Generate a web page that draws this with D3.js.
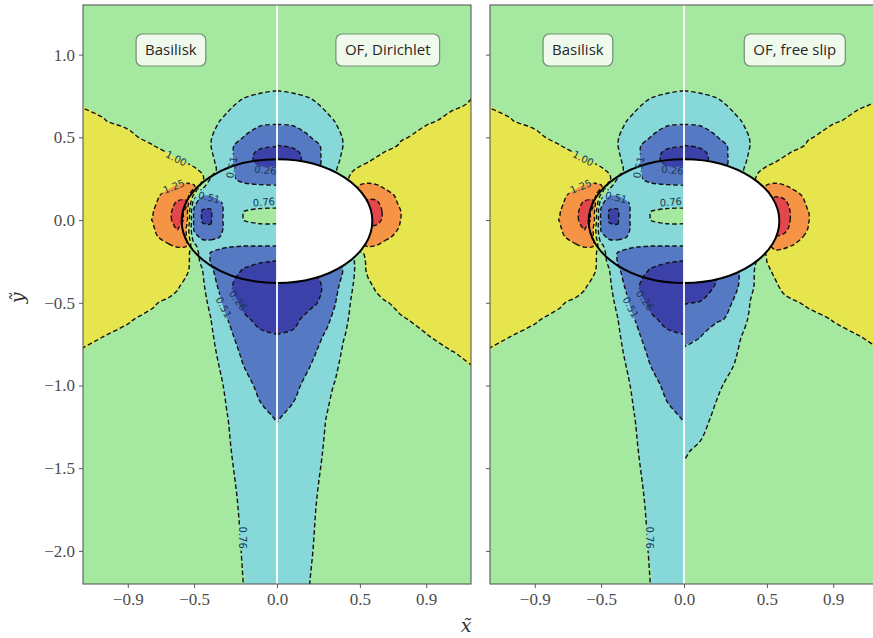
<!DOCTYPE html>
<html>
<head>
<meta charset="utf-8">
<script src="https://cdn.jsdelivr.net/npm/d3@7"></script>
<style>
  body { margin: 0; background: #fff; }
  svg { display: block; }
</style>
</head>
<body>
<svg id="fig" width="873" height="638"></svg>
<script>
// Sampling grid of the speed field: |x| columns and y rows (rows listed top to bottom)
const uNodes = [0, 0.1, 0.2, 0.3, 0.35, 0.4, 0.45, 0.5, 0.55, 0.6, 0.65, 0.75, 0.9, 1.05, 1.2];
const yNodes = [1.3, 1.0, 0.8, 0.7, 0.6, 0.5, 0.45, 0.4, 0.35, 0.3, 0.25, 0.2, 0.15, 0.1, 0.05, 0.0,
                -0.05, -0.1, -0.15, -0.2, -0.25, -0.3, -0.4, -0.5, -0.6, -0.7, -0.8, -1.0, -1.2, -1.4, -1.7, -2.0, -2.2];

// Contour levels and their fill colours (band above each level)
const levels = [0.01, 0.26, 0.51, 0.76, 1.00, 1.25, 1.50];
const bandColors = ["#3b41a8", "#5679c4", "#87d9d9", "#a5e9a1", "#e7e54d", "#f59445", "#e2474c"];

// Normalised speed, Basilisk (inside and outside the bubble)
const speedBasilisk = [
  [0.90,0.90,0.91,0.92,0.92,0.93,0.93,0.94,0.94,0.95,0.95,0.96,0.96,0.97,0.97],
  [0.86,0.87,0.88,0.90,0.90,0.91,0.92,0.93,0.94,0.94,0.95,0.96,0.97,0.97,0.98],
  [0.78,0.80,0.83,0.87,0.88,0.90,0.91,0.92,0.93,0.94,0.95,0.96,0.97,0.98,0.98],
  [0.67,0.68,0.72,0.80,0.83,0.86,0.88,0.90,0.91,0.92,0.93,0.95,0.97,0.98,0.995],
  [0.55,0.56,0.60,0.72,0.765,0.80,0.83,0.86,0.88,0.90,0.92,0.94,0.97,1.005,1.04],
  [0.375,0.40,0.505,0.63,0.70,0.77,0.80,0.83,0.86,0.88,0.91,0.96,1.03,1.06,1.08],
  [0.27,0.30,0.42,0.57,0.66,0.765,0.80,0.84,0.87,0.90,0.93,1.005,1.05,1.07,1.08],
  [0.17,0.20,0.35,0.60,0.70,0.78,0.82,0.86,0.90,0.95,1.002,1.04,1.06,1.08,1.09],
  [0.20,0.21,0.34,0.60,0.72,0.80,0.86,0.93,0.995,1.04,1.06,1.08,1.10,1.10,1.10],
  [0.30,0.31,0.42,0.58,0.72,0.84,0.96,1.05,1.09,1.10,1.10,1.10,1.10,1.10,1.10],
  [0.40,0.41,0.45,0.57,0.65,0.74,1.05,1.10,1.12,1.12,1.12,1.12,1.10,1.10,1.10],
  [0.54,0.55,0.57,0.60,0.62,0.64,0.80,1.30,1.36,1.30,1.22,1.13,1.10,1.10,1.10],
  [0.62,0.63,0.64,0.62,0.60,0.53,0.53,0.95,1.42,1.42,1.35,1.17,1.10,1.10,1.10],
  [0.71,0.70,0.67,0.60,0.45,0.30,0.32,0.58,1.56,1.54,1.42,1.20,1.10,1.10,1.10],
  [0.80,0.80,0.765,0.60,0.42,0.24,0.24,0.45,1.45,1.62,1.45,1.24,1.12,1.10,1.10],
  [0.80,0.80,0.765,0.60,0.43,0.24,0.245,0.45,1.45,1.62,1.45,1.255,1.13,1.10,1.10],
  [0.71,0.71,0.69,0.60,0.42,0.28,0.29,0.47,1.30,1.52,1.42,1.23,1.13,1.10,1.10],
  [0.61,0.61,0.60,0.58,0.50,0.45,0.45,0.58,1.30,1.42,1.36,1.20,1.12,1.10,1.10],
  [0.53,0.53,0.53,0.55,0.58,0.60,0.62,0.80,1.30,1.30,1.24,1.16,1.11,1.10,1.10],
  [0.38,0.38,0.39,0.42,0.45,0.50,0.64,0.90,1.08,1.12,1.13,1.13,1.12,1.11,1.10],
  [0.25,0.28,0.33,0.40,0.45,0.50,0.68,0.92,1.06,1.10,1.12,1.13,1.12,1.11,1.10],
  [0.15,0.17,0.245,0.37,0.44,0.54,0.76,0.93,1.04,1.10,1.12,1.13,1.12,1.11,1.10],
  [0.10,0.11,0.17,0.30,0.48,0.64,0.80,0.88,0.95,1.02,1.06,1.09,1.10,1.10,1.10],
  [0.08,0.10,0.20,0.38,0.58,0.72,0.82,0.87,0.91,0.94,0.97,1.015,1.06,1.08,1.09],
  [0.17,0.20,0.30,0.515,0.64,0.765,0.82,0.86,0.89,0.92,0.94,0.97,1.01,1.05,1.07],
  [0.27,0.30,0.41,0.57,0.70,0.79,0.84,0.87,0.89,0.91,0.93,0.95,0.975,1.002,1.04],
  [0.31,0.34,0.46,0.64,0.74,0.80,0.84,0.86,0.88,0.90,0.91,0.93,0.95,0.97,0.995],
  [0.42,0.46,0.58,0.73,0.79,0.83,0.85,0.87,0.88,0.89,0.90,0.91,0.93,0.94,0.95],
  [0.50,0.56,0.66,0.765,0.81,0.84,0.86,0.87,0.88,0.89,0.90,0.91,0.92,0.93,0.94],
  [0.58,0.62,0.70,0.78,0.82,0.84,0.86,0.87,0.88,0.89,0.90,0.91,0.92,0.93,0.94],
  [0.62,0.66,0.735,0.80,0.83,0.85,0.86,0.87,0.88,0.89,0.90,0.91,0.92,0.93,0.94],
  [0.64,0.68,0.75,0.81,0.84,0.85,0.86,0.87,0.88,0.89,0.90,0.91,0.92,0.93,0.94],
  [0.65,0.69,0.758,0.82,0.84,0.85,0.86,0.87,0.88,0.89,0.90,0.91,0.92,0.93,0.94]
];

// Normalised speed, OpenFOAM with Dirichlet condition (outside the bubble)
const speedOFDirichlet = [
  [0.90,0.90,0.91,0.92,0.92,0.93,0.93,0.94,0.94,0.95,0.95,0.96,0.96,0.97,0.97],
  [0.86,0.87,0.88,0.90,0.90,0.91,0.92,0.93,0.94,0.94,0.95,0.96,0.97,0.98,0.99],
  [0.78,0.80,0.83,0.87,0.88,0.90,0.91,0.92,0.93,0.94,0.95,0.96,0.97,0.98,0.995],
  [0.67,0.68,0.72,0.80,0.83,0.86,0.88,0.90,0.91,0.92,0.93,0.95,0.97,0.985,1.01],
  [0.55,0.56,0.60,0.72,0.765,0.80,0.83,0.86,0.88,0.90,0.92,0.95,0.985,1.02,1.05],
  [0.375,0.40,0.505,0.63,0.70,0.77,0.80,0.83,0.86,0.89,0.92,0.985,1.04,1.06,1.08],
  [0.255,0.29,0.42,0.57,0.66,0.765,0.80,0.84,0.87,0.90,0.94,1.02,1.05,1.07,1.08],
  [0.17,0.20,0.35,0.60,0.70,0.78,0.83,0.88,0.93,0.97,1.02,1.06,1.08,1.09,1.10],
  [0.18,0.20,0.34,0.60,0.72,0.80,0.87,0.94,0.998,1.05,1.08,1.10,1.10,1.10,1.10],
  [0.30,0.31,0.40,0.60,0.74,0.85,0.98,1.06,1.09,1.10,1.10,1.10,1.10,1.10,1.10],
  [0.40,0.41,0.45,0.57,0.70,0.90,1.06,1.10,1.12,1.12,1.12,1.12,1.10,1.10,1.10],
  [0.54,0.55,0.57,0.60,0.65,0.80,1.10,1.30,1.36,1.30,1.22,1.13,1.10,1.10,1.10],
  [0.62,0.63,0.64,0.62,0.60,0.80,1.30,1.40,1.44,1.44,1.35,1.17,1.10,1.10,1.10],
  [0.71,0.70,0.67,0.60,0.60,0.80,1.20,1.52,1.56,1.54,1.42,1.20,1.10,1.10,1.10],
  [0.80,0.80,0.77,0.70,0.70,0.90,1.30,1.55,1.60,1.60,1.45,1.245,1.12,1.10,1.10],
  [0.80,0.80,0.77,0.70,0.70,0.90,1.30,1.55,1.60,1.58,1.44,1.24,1.12,1.10,1.10],
  [0.71,0.71,0.69,0.65,0.65,0.85,1.20,1.40,1.45,1.44,1.38,1.22,1.12,1.10,1.10],
  [0.61,0.61,0.60,0.60,0.62,0.80,1.10,1.30,1.38,1.36,1.30,1.18,1.11,1.10,1.10],
  [0.53,0.53,0.53,0.55,0.58,0.70,0.95,1.20,1.30,1.26,1.20,1.14,1.11,1.10,1.10],
  [0.38,0.38,0.39,0.42,0.45,0.50,0.70,0.95,1.07,1.11,1.13,1.13,1.12,1.11,1.10],
  [0.25,0.28,0.33,0.40,0.45,0.55,0.70,0.88,1.06,1.10,1.12,1.13,1.12,1.11,1.10],
  [0.15,0.17,0.245,0.37,0.44,0.515,0.68,0.90,1.04,1.10,1.12,1.13,1.12,1.11,1.10],
  [0.10,0.11,0.17,0.30,0.45,0.58,0.74,0.86,0.96,1.03,1.06,1.09,1.10,1.10,1.10],
  [0.08,0.10,0.20,0.34,0.50,0.64,0.78,0.86,0.91,0.95,0.99,1.03,1.06,1.08,1.09],
  [0.17,0.20,0.35,0.47,0.56,0.70,0.80,0.86,0.90,0.93,0.95,0.99,1.03,1.06,1.08],
  [0.27,0.30,0.41,0.54,0.63,0.75,0.80,0.85,0.88,0.90,0.92,0.96,0.995,1.04,1.07],
  [0.31,0.34,0.46,0.60,0.70,0.78,0.82,0.85,0.87,0.89,0.90,0.93,0.96,0.995,1.03],
  [0.42,0.46,0.58,0.72,0.77,0.82,0.85,0.87,0.88,0.89,0.90,0.91,0.93,0.95,0.97],
  [0.50,0.56,0.66,0.765,0.81,0.84,0.86,0.87,0.88,0.89,0.90,0.91,0.92,0.93,0.94],
  [0.58,0.62,0.70,0.78,0.82,0.84,0.86,0.87,0.88,0.89,0.90,0.91,0.92,0.93,0.94],
  [0.62,0.66,0.735,0.80,0.83,0.85,0.86,0.87,0.88,0.89,0.90,0.91,0.92,0.93,0.94],
  [0.64,0.68,0.75,0.81,0.84,0.85,0.86,0.87,0.88,0.89,0.90,0.91,0.92,0.93,0.94],
  [0.65,0.69,0.762,0.82,0.84,0.85,0.86,0.87,0.88,0.89,0.90,0.91,0.92,0.93,0.94]
];

// Normalised speed, OpenFOAM with free-slip condition (outside the bubble)
const speedOFFreeSlip = [
  [0.90,0.90,0.91,0.92,0.92,0.93,0.93,0.94,0.94,0.95,0.95,0.96,0.96,0.97,0.97],
  [0.86,0.87,0.88,0.90,0.90,0.91,0.92,0.93,0.94,0.94,0.95,0.96,0.97,0.98,0.99],
  [0.78,0.80,0.83,0.87,0.88,0.90,0.91,0.92,0.93,0.94,0.95,0.96,0.97,0.98,0.99],
  [0.67,0.68,0.72,0.80,0.83,0.86,0.88,0.90,0.91,0.92,0.93,0.95,0.97,0.99,1.01],
  [0.55,0.56,0.60,0.72,0.765,0.80,0.83,0.86,0.88,0.90,0.92,0.95,0.99,1.02,1.05],
  [0.375,0.40,0.505,0.63,0.70,0.77,0.80,0.83,0.86,0.89,0.92,0.99,1.04,1.06,1.08],
  [0.255,0.29,0.42,0.57,0.66,0.765,0.80,0.84,0.87,0.90,0.94,1.02,1.05,1.07,1.08],
  [0.17,0.20,0.35,0.60,0.70,0.78,0.83,0.88,0.93,0.97,1.02,1.06,1.08,1.09,1.10],
  [0.18,0.20,0.34,0.60,0.72,0.80,0.87,0.94,0.998,1.05,1.08,1.10,1.10,1.10,1.10],
  [0.30,0.31,0.40,0.60,0.74,0.85,0.98,1.06,1.09,1.10,1.10,1.10,1.10,1.10,1.10],
  [0.40,0.41,0.45,0.57,0.70,0.90,1.06,1.10,1.12,1.12,1.12,1.12,1.10,1.10,1.10],
  [0.54,0.55,0.57,0.60,0.65,0.80,1.10,1.30,1.36,1.30,1.22,1.13,1.10,1.10,1.10],
  [0.62,0.63,0.64,0.62,0.60,0.80,1.30,1.42,1.48,1.46,1.36,1.17,1.10,1.10,1.10],
  [0.71,0.70,0.67,0.60,0.60,0.80,1.20,1.52,1.58,1.56,1.44,1.21,1.10,1.10,1.10],
  [0.80,0.80,0.77,0.70,0.70,0.90,1.30,1.55,1.62,1.62,1.47,1.252,1.12,1.10,1.10],
  [0.80,0.80,0.77,0.70,0.70,0.90,1.30,1.55,1.62,1.62,1.47,1.255,1.12,1.10,1.10],
  [0.71,0.71,0.69,0.65,0.65,0.85,1.20,1.45,1.58,1.58,1.44,1.245,1.12,1.10,1.10],
  [0.61,0.61,0.60,0.60,0.62,0.80,1.10,1.35,1.49,1.46,1.36,1.20,1.11,1.10,1.10],
  [0.53,0.53,0.53,0.55,0.58,0.70,0.95,1.20,1.36,1.32,1.26,1.16,1.11,1.10,1.10],
  [0.38,0.38,0.39,0.42,0.45,0.50,0.75,1.05,1.18,1.17,1.15,1.13,1.12,1.11,1.10],
  [0.25,0.28,0.33,0.40,0.50,0.65,0.80,1.002,1.08,1.12,1.13,1.13,1.12,1.11,1.10],
  [0.15,0.17,0.245,0.40,0.55,0.70,0.82,0.97,1.04,1.10,1.12,1.13,1.12,1.11,1.10],
  [0.15,0.17,0.28,0.45,0.56,0.73,0.80,0.88,0.97,1.04,1.07,1.09,1.10,1.10,1.10],
  [0.25,0.27,0.35,0.53,0.62,0.765,0.82,0.87,0.91,0.95,0.98,1.02,1.05,1.07,1.08],
  [0.36,0.39,0.49,0.54,0.68,0.80,0.84,0.87,0.89,0.91,0.93,0.96,1.005,1.04,1.06],
  [0.47,0.505,0.60,0.70,0.765,0.82,0.85,0.87,0.89,0.90,0.91,0.94,0.97,0.998,1.03],
  [0.53,0.56,0.64,0.735,0.79,0.83,0.85,0.87,0.88,0.89,0.90,0.92,0.95,0.975,0.998],
  [0.60,0.63,0.74,0.80,0.82,0.84,0.85,0.86,0.87,0.88,0.89,0.90,0.92,0.94,0.96],
  [0.68,0.72,0.79,0.82,0.83,0.84,0.85,0.86,0.87,0.88,0.89,0.90,0.91,0.92,0.93],
  [0.75,0.78,0.82,0.84,0.85,0.86,0.86,0.87,0.88,0.89,0.90,0.91,0.92,0.93,0.94],
  [0.80,0.82,0.84,0.85,0.86,0.86,0.87,0.87,0.88,0.89,0.90,0.91,0.92,0.93,0.94],
  [0.82,0.83,0.85,0.86,0.86,0.87,0.87,0.88,0.88,0.89,0.90,0.91,0.92,0.93,0.94],
  [0.83,0.84,0.85,0.86,0.87,0.87,0.88,0.88,0.89,0.89,0.90,0.91,0.92,0.93,0.94]
];

// Bubble shape (semi-axes and centre height)
const bubble = { a: 0.575, b: 0.374, yc: -0.006 };

// Axis ticks
const xTicks = [-0.9, -0.5, 0.0, 0.5, 0.9];
const yTicks = [1.0, 0.5, 0.0, -0.5, -1.0, -1.5, -2.0];

// Inline contour labels on the Basilisk side (anchor in data units, text, rotation)
const contourLabels = [
  { x: -0.608, y: 0.372, text: "1.00", angle: 27 },
  { x: -0.622, y: 0.202, text: "1.25", angle: -22 },
  { x: -0.272, y: 0.318, text: "0.51", angle: -78 },
  { x: -0.070, y: 0.302, text: "0.26", angle: 6 },
  { x: -0.410, y: 0.136, text: "0.51", angle: 14 },
  { x: -0.080, y: 0.108, text: "0.76", angle: -4 },
  { x: -0.236, y: -0.486, text: "0.26", angle: 55 },
  { x: -0.322, y: -0.528, text: "0.51", angle: 62 },
  { x: -0.210, y: -1.920, text: "0.76", angle: 90 }
];

// Panel set-up
const W = 873, H = 638;
const xDomain = [-1.17, 1.17], yDomain = [-2.2, 1.3];
const plotTop = 5, plotBottom = 584;
const panels = [
  { x0: 83, x1: 471, field: speedOFDirichlet, titles: ["Basilisk", "OF, Dirichlet"], showY: true },
  { x0: 490, x1: 878, field: speedOFFreeSlip, titles: ["Basilisk", "OF, free slip"], showY: false }
];
const titleAnchors = [{ x: -0.64, y: 1.028 }, { x: 0.668, y: 1.028 }];

const svg = d3.select("#fig");
const defs = svg.append("defs");

// Build filled contour bands for one half of a panel
const nu = uNodes.length, ny = yNodes.length;
const uAt = d3.scaleLinear().domain(d3.range(nu)).range(uNodes).clamp(true);
const yAt = d3.scaleLinear().domain(d3.range(ny)).range(yNodes).clamp(true);
const contourGen = d3.contours().size([nu, ny]).thresholds(levels).smooth(true);

function contourBands(field, sign) {
  return contourGen(field.flat()).map(mp => ({
    value: mp.value,
    polygons: mp.coordinates.map(poly => poly.map(ring => ring.map(([cx, cy]) => ({
      x: sign * uAt(cx - 0.5),
      y: yAt(cy - 0.5),
      ex: cx <= 0.5 ? -1 : (cx >= nu - 0.5 ? 1 : 0),
      ey: cy <= 0.5 ? -1 : (cy >= ny - 0.5 ? 1 : 0)
    }))))
  }));
}

function dedupe(ring) {
  const out = [];
  ring.forEach(p => {
    const q = out[out.length - 1];
    if (!q || Math.abs(q.x - p.x) > 1e-9 || Math.abs(q.y - p.y) > 1e-9) out.push(p);
  });
  if (out.length > 1) {
    const f = out[0], l = out[out.length - 1];
    if (Math.abs(f.x - l.x) < 1e-9 && Math.abs(f.y - l.y) < 1e-9) out.pop();
  }
  return out;
}

// Split a closed ring into isoline runs, dropping the stretches along the grid border
function isoRuns(pts) {
  const n = pts.length;
  const onBorder = (p, q) => (p.ex !== 0 && p.ex === q.ex) || (p.ey !== 0 && p.ey === q.ey);
  let start = -1;
  for (let i = 0; i < n; i++) if (onBorder(pts[i], pts[(i + 1) % n])) { start = i; break; }
  if (start < 0) return [{ closed: true, pts }];
  const runs = [];
  let cur = [];
  for (let k = 0; k < n; k++) {
    const i = (start + 1 + k) % n, j = (i + 1) % n;
    if (cur.length === 0) cur.push(pts[i]);
    if (onBorder(pts[i], pts[j])) {
      if (cur.length > 1) runs.push({ closed: false, pts: cur });
      cur = [];
    } else cur.push(pts[j]);
  }
  if (cur.length > 1) runs.push({ closed: false, pts: cur });
  return runs;
}

function drawHalf(g, field, sign, X, Y, maskId) {
  const bands = contourBands(field, sign);
  const closedLine = d3.line().x(d => X(d.x)).y(d => Y(d.y)).curve(d3.curveCatmullRomClosed.alpha(0.5));
  const openLine = d3.line().x(d => X(d.x)).y(d => Y(d.y)).curve(d3.curveCatmullRom.alpha(0.5));
  const fills = g.append("g");
  bands.forEach((b, i) => {
    const d = b.polygons.map(poly => poly.map(r => {
      const pts = dedupe(r);
      return pts.length > 2 ? closedLine(pts) : "";
    }).join("")).join("");
    if (d) fills.append("path").attr("d", d).attr("fill", bandColors[i]);
  });
  const lines = g.append("g").attr("fill", "none").attr("stroke", "#121212")
    .attr("stroke-width", 1.4).attr("stroke-dasharray", "4.6,2.6");
  if (maskId) lines.attr("mask", `url(#${maskId})`);
  bands.forEach((b, i) => {
    if (i === 0) return;
    b.polygons.forEach(poly => poly.forEach(r => {
      const pts = dedupe(r);
      if (pts.length < 2) return;
      isoRuns(pts).forEach(run => {
        lines.append("path").attr("d", run.closed ? closedLine(run.pts) : openLine(run.pts));
      });
    }));
  });
}

panels.forEach((p, k) => {
  const X = d3.scaleLinear().domain(xDomain).range([p.x0, p.x1]);
  const Y = d3.scaleLinear().domain(yDomain).range([plotBottom, plotTop]);
  const id = "panel" + k;
  const top = Y(yDomain[1]), hgt = Y(yDomain[0]) - Y(yDomain[1]);

  defs.append("clipPath").attr("id", id + "L").append("rect")
    .attr("x", X(xDomain[0])).attr("y", top).attr("width", X(0) - X(xDomain[0])).attr("height", hgt);
  defs.append("clipPath").attr("id", id + "R").append("rect")
    .attr("x", X(0)).attr("y", top).attr("width", X(xDomain[1]) - X(0)).attr("height", hgt);
  defs.append("clipPath").attr("id", id + "A").append("rect")
    .attr("x", X(xDomain[0])).attr("y", top).attr("width", X(xDomain[1]) - X(xDomain[0])).attr("height", hgt);

  // Gaps in the dashed isolines under the inline labels
  const mask = defs.append("mask").attr("id", id + "M").attr("maskUnits", "userSpaceOnUse")
    .attr("x", 0).attr("y", 0).attr("width", W + 20).attr("height", H);
  mask.append("rect").attr("x", 0).attr("y", 0).attr("width", W + 20).attr("height", H).attr("fill", "#fff");
  contourLabels.forEach(l => {
    mask.append("rect").attr("x", -13).attr("y", -5).attr("width", 26).attr("height", 10).attr("fill", "#000")
      .attr("transform", `translate(${X(l.x)},${Y(l.y)}) rotate(${l.angle})`);
  });

  const g = svg.append("g");
  drawHalf(g.append("g").attr("clip-path", `url(#${id}L)`), speedBasilisk, -1, X, Y, id + "M");
  const right = g.append("g").attr("clip-path", `url(#${id}R)`);
  drawHalf(right, p.field, 1, X, Y, null);
  right.append("ellipse")
    .attr("cx", X(0)).attr("cy", Y(bubble.yc))
    .attr("rx", X(bubble.a) - X(0)).attr("ry", Y(0) - Y(bubble.b))
    .attr("fill", "#fff");

  // Bubble outline
  g.append("g").attr("clip-path", `url(#${id}A)`).append("ellipse")
    .attr("cx", X(0)).attr("cy", Y(bubble.yc))
    .attr("rx", X(bubble.a) - X(0)).attr("ry", Y(0) - Y(bubble.b))
    .attr("fill", "none").attr("stroke", "#000").attr("stroke-width", 2);

  // Divider between the two solvers
  g.append("line").attr("x1", X(0)).attr("x2", X(0)).attr("y1", Y(yDomain[1])).attr("y2", Y(yDomain[0]))
    .attr("stroke", "#fff").attr("stroke-width", 1.8);

  // Inline contour labels
  g.append("g").selectAll("text").data(contourLabels).join("text")
    .attr("transform", d => `translate(${X(d.x)},${Y(d.y)}) rotate(${d.angle})`)
    .attr("text-anchor", "middle").attr("dy", "0.35em")
    .attr("font-family", "DejaVu Sans, sans-serif").attr("font-size", 10)
    .attr("fill", "#183650").text(d => d.text);

  // Solver tags
  p.titles.forEach((t, i) => {
    const a = titleAnchors[i];
    const tg = g.append("g").attr("transform", `translate(${X(a.x)},${Y(a.y)})`);
    const txt = tg.append("text").attr("text-anchor", "middle").attr("dy", "0.35em")
      .attr("font-family", "Open Sans, sans-serif").attr("font-size", 15).attr("fill", "#262626").text(t);
    const bb = txt.node().getBBox();
    tg.insert("rect", "text")
      .attr("x", bb.x - 9).attr("y", -16).attr("width", bb.width + 18).attr("height", 32)
      .attr("rx", 6).attr("fill", "#effaed").attr("stroke", "#738f73").attr("stroke-width", 1.2);
  });

  // Frame
  const frame = g.append("g").attr("fill", "none").attr("stroke", "#5a5a5a").attr("stroke-width", 1.1);
  frame.append("rect").attr("x", X(xDomain[0])).attr("y", top)
    .attr("width", X(xDomain[1]) - X(xDomain[0])).attr("height", hgt);

  // Axes
  const fmt = d3.format(".1f");
  const xAxis = g.append("g").attr("transform", `translate(0,${plotBottom})`)
    .call(d3.axisBottom(X).tickValues(xTicks).tickFormat(fmt).tickSize(4).tickPadding(5));
  const yAxis = g.append("g").attr("transform", `translate(${X(xDomain[0])},0)`)
    .call(d3.axisLeft(Y).tickValues(yTicks).tickFormat(p.showY ? fmt : () => "").tickSize(4).tickPadding(4));
  [xAxis, yAxis].forEach(ax => {
    ax.attr("font-family", null).attr("font-size", null);
    ax.select(".domain").remove();
    ax.selectAll(".tick line").attr("stroke", "#5a5a5a");
    ax.selectAll(".tick text").attr("font-family", "Liberation Serif, serif").attr("font-size", 17).attr("fill", "#4d4d4d");
  });
});

// Axis titles
svg.append("text").attr("x", 466).attr("y", 632).attr("text-anchor", "middle")
  .attr("font-family", "DejaVu Serif, serif").attr("font-style", "italic").attr("font-size", 19).attr("fill", "#333")
  .text("x\u0303");
svg.append("text").attr("transform", "translate(24,298) rotate(-90)").attr("text-anchor", "middle")
  .attr("font-family", "DejaVu Serif, serif").attr("font-style", "italic").attr("font-size", 19).attr("fill", "#333")
  .text("\u1EF9");
</script>
</body>
</html>
